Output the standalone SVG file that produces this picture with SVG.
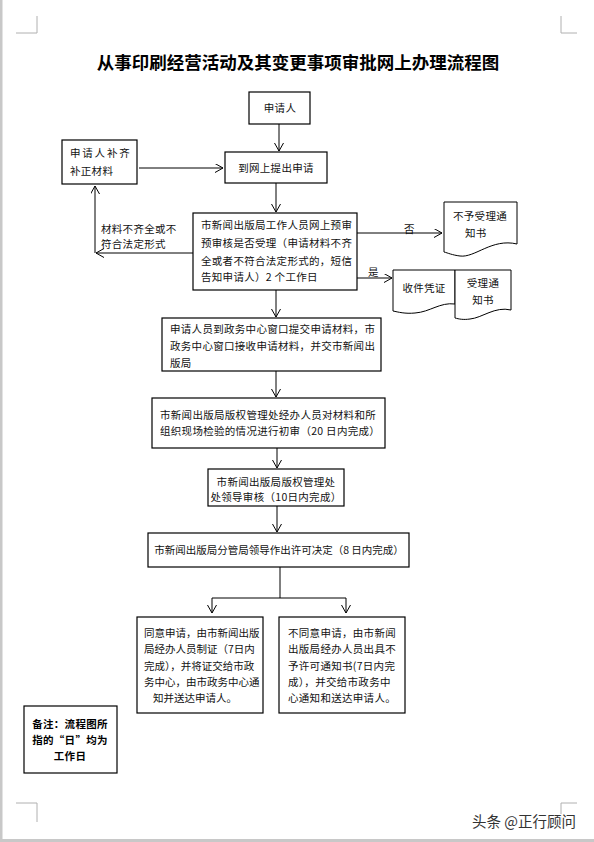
<svg xmlns="http://www.w3.org/2000/svg" width="594" height="842" viewBox="0 0 594 842">
<style>
  .box{fill:#fff;stroke:#000;stroke-width:1.2}
  .doc{fill:#fff;stroke:#000;stroke-width:1}
  .t{font-family:"Noto Sans CJK SC","Noto Sans",sans-serif;font-size:10.5px;letter-spacing:0.3px;fill:#111}
  .n{letter-spacing:0}
  .c{text-anchor:middle}
  .b{font-weight:bold;fill:#000}
  .ln{stroke:#000;stroke-width:1;fill:none}
  .corner{stroke:#b0b0b0;stroke-width:1;fill:none}
</style>
<defs>
  <marker id="arr" markerUnits="userSpaceOnUse" markerWidth="12" markerHeight="12" refX="8" refY="4.5" orient="auto">
    <path d="M0,0 L8,4.5 L0,9" fill="none" stroke="#000" stroke-width="1"/>
  </marker>
</defs>
<rect x="0" y="0" width="594" height="842" fill="#fff"/>
<rect x="0" y="0" width="2.5" height="842" fill="#c8c8c8"/>
<rect x="0" y="839" width="594" height="3" fill="#c8c8c8"/>
<g id="corners">
  <path class="corner" d="M16,33 H37 V16"/>
  <path class="corner" d="M577,33 H561 V16"/>
  <path class="corner" d="M16,803 H37 V822"/>
  <path class="corner" d="M577,803 H561 V822"/>
</g>
<text x="298" y="69" text-anchor="middle" font-family="'Noto Sans CJK SC',sans-serif" font-size="17.5" font-weight="bold" fill="#000">从事印刷经营活动及其变更事项审批网上办理流程图</text>

<g id="connectors">
  <line class="ln" x1="279" y1="124" x2="279" y2="151" marker-end="url(#arr)"/>
  <line class="ln" x1="139" y1="168" x2="223" y2="168" marker-end="url(#arr)"/>
  <line class="ln" x1="276" y1="183" x2="276" y2="212" marker-end="url(#arr)"/>
  <line class="ln" x1="193" y1="253" x2="96" y2="253" marker-end="url(#arr)"/>
  <line class="ln" x1="95" y1="253" x2="95" y2="186" marker-end="url(#arr)"/>
  <line class="ln" x1="357" y1="233" x2="442" y2="233" marker-end="url(#arr)"/>
  <line class="ln" x1="357" y1="278" x2="392" y2="278" marker-end="url(#arr)"/>
  <line class="ln" x1="276" y1="290" x2="276" y2="317" marker-end="url(#arr)"/>
  <line class="ln" x1="276" y1="371" x2="276" y2="397" marker-end="url(#arr)"/>
  <line class="ln" x1="277" y1="448" x2="277" y2="468" marker-end="url(#arr)"/>
  <line class="ln" x1="277" y1="506" x2="277" y2="532" marker-end="url(#arr)"/>
  <path class="ln" d="M280,567 V598 M212,598 H346"/>
  <line class="ln" x1="212" y1="598" x2="212" y2="613" marker-end="url(#arr)"/>
  <line class="ln" x1="346" y1="598" x2="346" y2="613" marker-end="url(#arr)"/>
  <text class="t" x="101" y="233">材料不齐全或不</text>
  <text class="t" x="101" y="248">符合法定形式</text>
  <text class="t" x="404" y="233">否</text>
  <text class="t" x="368" y="276">是</text>
</g>

<g id="n-applicant">
  <rect class="box" x="249" y="92" width="61" height="32"/>
  <text class="t c" x="280" y="112">申请人</text>
</g>
<g id="n-online">
  <rect class="box" x="225" y="152" width="102" height="31"/>
  <text class="t c" x="276" y="172">到网上提出申请</text>
</g>
<g id="n-supplement">
  <rect class="box" x="62" y="140" width="75" height="44"/>
  <text class="t" x="70" y="157" style="letter-spacing:1.8px">申请人补齐</text>
  <text class="t" x="70" y="175">补正材料</text>
</g>
<g id="n-prereview">
  <rect class="box" x="193" y="213" width="164" height="77"/>
  <text class="t" x="201" y="229">市新闻出版局工作人员网上预审</text>
  <text class="t" x="201" y="247">预审核是否受理（申请材料不齐</text>
  <text class="t" x="201" y="265">全或者不符合法定形式的，短信</text>
  <text class="t" x="201" y="281">告知申请人）2 个工作日</text>
</g>
<g id="n-reject-notice">
  <path class="doc" d="M444,202 H517 V244 C492,238 475,258 460,256 C452,255 448,253 444,252 Z"/>
  <text class="t" x="453" y="220">不予受理通</text>
  <text class="t" x="465" y="237">知书</text>
</g>
<g id="n-receipt">
  <path class="doc" d="M393,270 H455 V304 C440,302 430,312 415,313 C405,314 398,312 393,311 Z"/>
  <text class="t c" x="424" y="292">收件凭证</text>
</g>
<g id="n-accept-notice">
  <path class="doc" d="M455,270 H511 V310 C495,306 482,318 470,319 C463,320 459,319 455,318 Z"/>
  <text class="t c" x="483" y="287">受理通</text>
  <text class="t c" x="483" y="304">知书</text>
</g>
<g id="n-submit">
  <rect class="box" x="162" y="318" width="219" height="53"/>
  <text class="t" x="170" y="333">申请人员到政务中心窗口提交申请材料，市</text>
  <text class="t" x="170" y="350">政务中心窗口接收申请材料，并交市新闻出</text>
  <text class="t" x="170" y="367">版局</text>
</g>
<g id="n-first-review">
  <rect class="box" x="152" y="398" width="233" height="50"/>
  <text class="t" x="160" y="419">市新闻出版局版权管理处经办人员对材料和所</text>
  <text class="t" x="160" y="435">组织现场检验的情况进行初审（20 日内完成）</text>
</g>
<g id="n-leader-review">
  <rect class="box" x="208" y="469" width="136" height="37"/>
  <text class="t c" x="276" y="486">市新闻出版局版权管理处</text>
  <text class="t c" x="276" y="501">处领导审核（10日内完成）</text>
</g>
<g id="n-decision">
  <rect class="box" x="148" y="533" width="261" height="34"/>
  <text class="t c n" x="279" y="554">市新闻出版局分管局领导作出许可决定（8 日内完成）</text>
</g>
<g id="n-approve">
  <rect class="box" x="137" y="617" width="126" height="96"/>
  <text class="t n" x="144" y="637">同意申请，由市新闻出版</text>
  <text class="t n" x="144" y="653">局经办人员制证（7日内</text>
  <text class="t n" x="144" y="670">完成），并将证交给市政</text>
  <text class="t n" x="144" y="686">务中心，由市政务中心通</text>
  <text class="t n" x="153" y="702">知并送达申请人。</text>
</g>
<g id="n-deny">
  <rect class="box" x="279" y="617" width="126" height="96"/>
  <text class="t" x="288" y="637">不同意申请，由市新闻</text>
  <text class="t" x="288" y="653">出版局经办人员出具不</text>
  <text class="t" x="288" y="670">予许可通知书(7日内完</text>
  <text class="t" x="288" y="686">成），并交给市政务中</text>
  <text class="t" x="288" y="702">心通知和送达申请人。</text>
</g>
<g id="n-note">
  <rect class="box" x="24" y="706" width="93" height="67"/>
  <text class="t c b" x="70" y="728">备注：流程图所</text>
  <text class="t c b" x="70" y="744">指的“日”均为</text>
  <text class="t c b" x="70" y="760">工作日</text>
</g>
<text x="472" y="827" font-family="'Noto Sans CJK SC',sans-serif" font-size="14.5" fill="#333" stroke="#fff" stroke-width="2" paint-order="stroke">头条 @正行顾问</text>
</svg>
